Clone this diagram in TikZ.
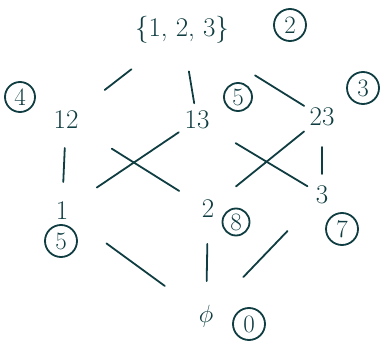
\documentclass[tikz,border=0pt]{standalone}
\begin{document}
\begin{tikzpicture}[x=1pt,y=-1pt,
  ink/.style={draw=inkc, line width=1.8pt, line cap=round},
  lbl/.style={text=inkc, font=\fontsize{27}{27}\selectfont, inner sep=0pt},
  num/.style={circle, draw=inkc, line width=1.8pt, text=inkc, font=\fontsize{25}{25}\selectfont, inner sep=0pt},
]
\definecolor{inkc}{HTML}{0F3D42}
\useasboundingbox (0,0) rectangle (383,342);
% labels
\node[lbl] (top) at (182,30) {\{1, 2, 3\}};
\node[lbl] (n12) at (66,120) {12};
\node[lbl] (n13) at (197,120) {13};
\node[lbl] (n23) at (322,117) {23};
\node[lbl] (n1) at (62,211) {1};
\node[lbl] (n2) at (208,209) {2};
\node[lbl] (n3) at (322,195) {3};
\node[lbl, font=\fontsize{34}{34}\selectfont] (n0) at (206,316) {$\phi$};
% circled numbers
\node[num, minimum size=32pt] (c2) at (290,25) {2};
\node[num, minimum size=30pt] (c4) at (20,97) {4};
\node[num, minimum size=28pt] (c5a) at (238,97) {5};
\node[num, minimum size=32pt] (c3) at (363,88) {3};
\node[num, minimum size=32pt] (c5b) at (61,241) {5};
\node[num, minimum size=27pt] (c8) at (236,222) {8};
\node[num, minimum size=32pt] (c7) at (342,229) {7};
\node[num, minimum size=32pt] (c0) at (249,324) {0};
% connectors
\draw[ink, shorten <=64pt, shorten >=49pt] (top.center) -- (n12.center);
\draw[ink, shorten <=42pt, shorten >=17pt] (top.center) -- (n13.center);
\draw[ink, shorten <=86pt, shorten >=21pt] (top.center) -- (n23.center);
\draw[ink, shorten <=28pt, shorten >=29pt] (n12.center) -- (n1.center);
\draw[ink, shorten <=54pt, shorten >=34pt] (n12.center) -- (n2.center);
\draw[ink, shorten <=22pt, shorten >=42pt] (n13.center) -- (n1.center);
\draw[ink, shorten <=45pt, shorten >=17pt] (n13.center) -- (n3.center);
\draw[ink, shorten <=23pt, shorten >=36pt] (n23.center) -- (n2.center);
\draw[ink, shorten <=30pt, shorten >=21pt] (n23.center) -- (n3.center);
\draw[ink, shorten <=55pt, shorten >=51pt] (n1.center) -- (n0.center);
\draw[ink, shorten <=35pt, shorten >=35pt] (n2.center) -- (n0.center);
\draw[ink, shorten <=50pt, shorten >=54pt] (n3.center) -- (n0.center);
\end{tikzpicture}
\end{document}
